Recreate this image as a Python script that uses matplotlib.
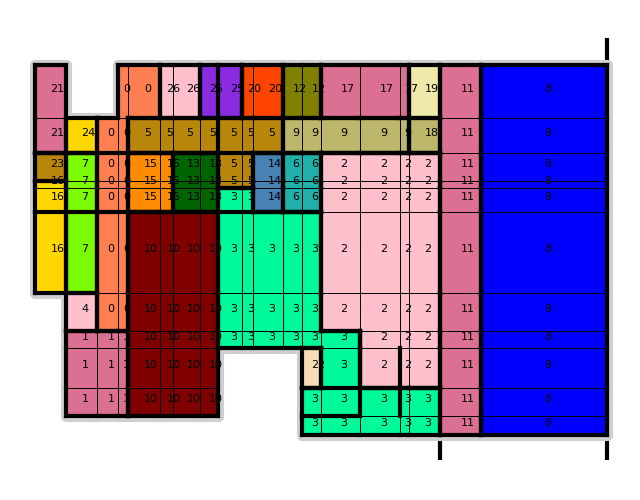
import numpy as np
import matplotlib
matplotlib.use("Agg")
import matplotlib.pyplot as plt
from matplotlib.patches import Rectangle
from matplotlib.collections import LineCollection

# grid structure (column widths / row heights, in grid units)
col_widths = [31, 31, 21, 10, 32, 13, 27, 18, 24, 11, 30, 19, 19, 39, 40, 9, 31, 41, 126]
row_heights = [53, 35, 28, 7, 24, 81, 38, 17, 40, 28, 19]

N = None
labels = [
    [21, N, N, 0, 0, 26, 26, 25, 25, 20, 20, 12, 12, 17, 17, 17, 19, 11, 8],
    [21, 24, 0, 0, 5, 5, 5, 5, 5, 5, 5, 9, 9, 9, 9, 9, 18, 11, 8],
    [23, 7, 0, 0, 15, 15, 13, 13, 5, 5, 14, 6, 6, 2, 2, 2, 2, 11, 8],
    [16, 7, 0, 0, 15, 15, 13, 13, 5, 5, 14, 6, 6, 2, 2, 2, 2, 11, 8],
    [16, 7, 0, 0, 15, 15, 13, 13, 3, 3, 14, 6, 6, 2, 2, 2, 2, 11, 8],
    [16, 7, 0, 0, 10, 10, 10, 10, 3, 3, 3, 3, 3, 2, 2, 2, 2, 11, 8],
    [N, 4, 0, 0, 10, 10, 10, 10, 3, 3, 3, 3, 3, 2, 2, 2, 2, 11, 8],
    [N, 1, 1, 1, 10, 10, 10, 10, 3, 3, 3, 3, 3, 3, 2, 2, 2, 11, 8],
    [N, 1, 1, 1, 10, 10, 10, 10, N, N, N, N, 22, 3, 2, 2, 2, 11, 8],
    [N, 1, 1, 1, 10, 10, 10, 10, N, N, N, N, 3, 3, 3, 3, 3, 11, 8],
    [N, N, N, N, N, N, N, N, N, N, N, N, 3, 3, 3, 3, 3, 11, 8],
]

label_colors = {
    0: '#FF7F50', 1: '#DB7093', 2: '#FFC0CB', 3: '#00FA9A', 4: '#FFC0CB',
    5: '#B8860B', 6: '#20B2AA', 7: '#7CFC00', 8: '#0000FF', 9: '#BDB76B',
    10: '#800000', 11: '#DB7093', 12: '#808000', 13: '#006400', 14: '#4682B4',
    15: '#FF8C00', 16: '#FFD700', 17: '#DB7093', 18: '#BDB76B', 19: '#EEE8AA',
    20: '#FF4500', 21: '#DB7093', 22: '#F5DEB3', 23: '#B8860B', 24: '#FFD700',
    25: '#8A2BE2', 26: '#FFC0CB',
}

# extra thick cuts: (orientation, edge index, start cell, end cell)
extra_cuts = [('h', 2, 0, 17), ('h', 5, 0, 13), ('v', 8, 0, 2),
              ('v', 14, 7, 10), ('v', 15, 8, 10), ('h', 9, 12, 17), ('h', 10, 12, 14)]
# stray vertical bars: (column edge, extension above top, extension below bottom)
bar_edges = [(17, 0, 25), (19, 27, 25)]

xe = np.concatenate([[0], np.cumsum(col_widths)])
ye = np.concatenate([[0], np.cumsum(row_heights)])
nr, nc = len(row_heights), len(col_widths)

fig = plt.figure(figsize=(6.4, 5), dpi=100)
ax = fig.add_axes([0, 0, 1, 1])
ax.set_xlim(-35, 605)
ax.set_ylim(435, -65)
ax.axis('off')

def lab(r, c):
    if 0 <= r < nr and 0 <= c < nc:
        return labels[r][c]
    return None

outer, thick = [], []
for r in range(nr):
    for c in range(nc):
        L = labels[r][c]
        if L is None:
            continue
        x0, x1, y0, y1 = xe[c], xe[c + 1], ye[r], ye[r + 1]
        sides = [((r - 1, c), [(x0, y0), (x1, y0)]),
                 ((r + 1, c), [(x0, y1), (x1, y1)]),
                 ((r, c - 1), [(x0, y0), (x0, y1)]),
                 ((r, c + 1), [(x1, y0), (x1, y1)])]
        for (rr, cc), seg in sides:
            nb = lab(rr, cc)
            if nb is None:
                outer.append(seg)
                thick.append(seg)
            elif nb != L:
                thick.append(seg)
        ax.add_patch(Rectangle((x0, y0), x1 - x0, y1 - y0, facecolor=label_colors[L],
                               edgecolor='black', linewidth=0.7, zorder=2))
        ax.text((x0 + x1) / 2, (y0 + y1) / 2, str(L), fontsize=8, color='black', zorder=3)

for o, i, a, b in extra_cuts:
    if o == 'h':
        thick.append([(xe[a], ye[i]), (xe[b], ye[i])])
    else:
        thick.append([(xe[i], ye[a]), (xe[i], ye[b])])

bars = [[(xe[e], ye[0] - up), (xe[e], ye[-1] + down)] for e, up, down in bar_edges]
ax.add_collection(LineCollection(bars, colors='black', linewidths=3, zorder=0.5))
ax.add_collection(LineCollection(outer, colors='#CFCFCF', linewidths=8,
                                 capstyle='round', zorder=1))
ax.add_collection(LineCollection(thick, colors='black', linewidths=3,
                                 capstyle='projecting', zorder=4))

fig.savefig('out.png', dpi=100)
